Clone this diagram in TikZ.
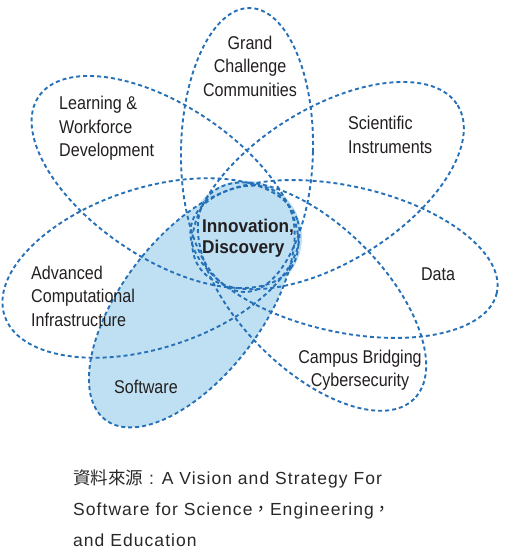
\documentclass[tikz,border=0pt]{standalone}
\usepackage{fontspec}
\setmainfont{Liberation Sans}
\newfontfamily\labfont[FakeStretch=0.87]{Liberation Sans}
\newfontfamily\boldfont[FakeStretch=0.93]{Liberation Sans Bold}
\newfontfamily\capfont[LetterSpace=6]{Liberation Sans}
\newfontfamily\cjkfont{Noto Sans CJK TC}
\definecolor{lineblue}{RGB}{38,112,184}
\definecolor{fillblue}{RGB}{190,224,242}
\definecolor{txt}{RGB}{35,31,32}
\definecolor{captxt}{RGB}{40,40,40}
\begin{document}
\begin{tikzpicture}[x=1pt,y=-1pt,
  petal/.style={draw=lineblue, line width=1.9pt, dash pattern=on 4pt off 3pt},
  lab/.style={font=\labfont\fontsize{18.5}{23.5}\selectfont, text=txt, inner sep=0pt},
  boldlab/.style={font=\boldfont\fontsize{18.5}{21}\selectfont, text=txt, inner sep=0pt},
  caption/.style={font=\capfont\fontsize{17.5}{31}\selectfont, text=captxt, inner sep=0pt, align=left, anchor=west}]
\useasboundingbox (0,0) rectangle (508,551);
% fills
\fill[fillblue, rotate around={52.6:(191.8,306.5)}] (191.8,306.5) ellipse [x radius=142.5, y radius=70];
\fill[fillblue] (245,237.5) circle [radius=57];
% petals
\draw[petal, rotate around={-1.2:(247,150)}] (247,150) ellipse [x radius=66, y radius=142];
\draw[petal, rotate around={-34:(165,182)}] (165,182) ellipse [x radius=152.5, y radius=76];
\draw[petal, rotate around={31.8:(328,185.6)}] (328,185.6) ellipse [x radius=152.5, y radius=77];
\draw[petal, rotate around={18:(151,268)}] (151,268) ellipse [x radius=154, y radius=80];
\draw[petal, rotate around={-12.5:(344,259)}] (344,259) ellipse [x radius=156.5, y radius=73];
\draw[petal, rotate around={-45:(312,296.6)}] (312,296.6) ellipse [x radius=144.5, y radius=72];
\draw[petal, rotate around={52.6:(191.8,306.5)}] (191.8,306.5) ellipse [x radius=142.5, y radius=70];
% labels
\node[lab, align=center] (grand) at (250,66) {Grand\\Challenge\\Communities};
\node[lab, align=left, anchor=west] (learn) at (59,128.5) {Learning \&\\Workforce\\Development};
\node[lab, align=left, anchor=west] (sci) at (348,135) {Scientific\\Instruments};
\node[boldlab, align=left, anchor=west] (innov) at (202,238.5) {Innovation,\\Discovery};
\node[lab, align=left, anchor=west] (adv) at (31,296) {Advanced\\Computational\\Infrastructure};
\node[lab] (data) at (438,274) {Data};
\node[lab, align=center] (campus) at (360,370) {Campus Bridging\\Cybersecurity};
\node[lab] (soft) at (146,387) {Software};
\node[caption] (cap) at (73,508) {{\cjkfont 資料來源} : A Vision and Strategy For\\Software for Science{\cjkfont ，}Engineering{\cjkfont ，}\\and Education};
\end{tikzpicture}
\end{document}
